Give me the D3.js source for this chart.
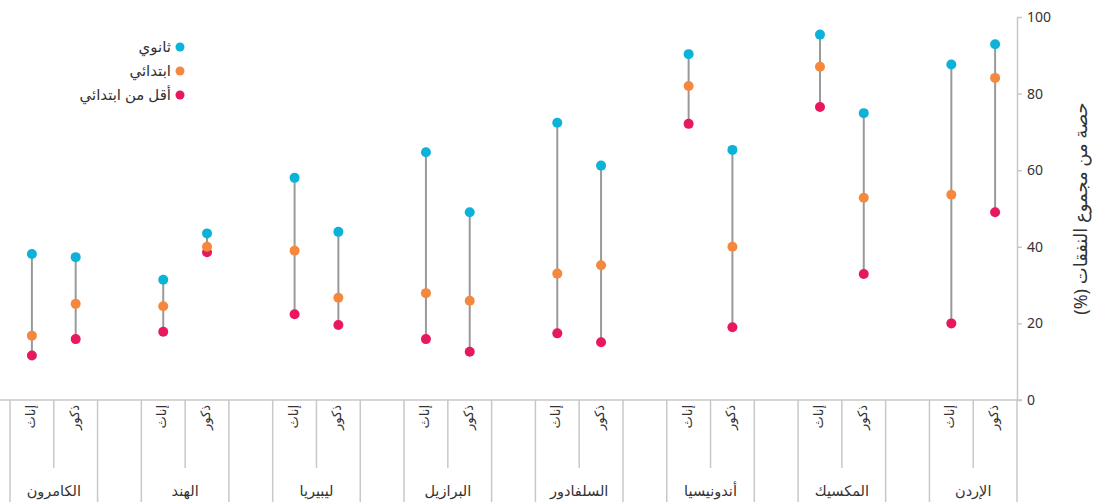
<!DOCTYPE html>
<html lang="ar">
<head>
<meta charset="utf-8">
<script src="https://cdn.jsdelivr.net/npm/d3@7"></script>
<style>
  html, body { margin: 0; padding: 0; background: #fff; }
  svg { display: block; font-family: "Noto Sans", "DejaVu Sans", sans-serif; }
</style>
</head>
<body>
<svg id="chart" width="1097" height="502"></svg>
<script>
// Countries, left to right
const countries = ["الكامرون", "الهند", "ليبيريا", "البرازيل", "السلفادور", "أندونيسيا", "المكسيك", "الإردن"];
const genders = ["إناث", "ذكور"];

// Share of total expenditure (%) per country, [إناث, ذكور]
const secondary = [[38.1, 37.3], [31.4, 43.5], [58.0, 43.9], [64.7, 49.0], [72.4, 61.2], [90.3, 65.3], [95.4, 74.9], [87.6, 92.9]];
const primary = [[16.8, 25.1], [24.5, 40.0], [39.0, 26.7], [27.9, 25.9], [33.0, 35.2], [82.0, 40.0], [87.0, 52.8], [53.6, 84.1]];
const belowPrimary = [[11.6, 15.9], [17.8, 38.6], [22.4, 19.6], [15.9, 12.6], [17.4, 15.1], [72.1, 19.0], [76.5, 32.9], [20.0, 49.0]];

const seriesNames = ["ثانوي", "ابتدائي", "أقل من ابتدائي"];
const seriesColors = ["#0db2d8", "#f5883c", "#e8185c"];
const yTicks = [0, 20, 40, 60, 80, 100];
const yTitle = "حصة من مجموع النفقات (%)";

const svg = d3.select("#chart");
const plotLeft = 10, plotRight = 1017, plotTop = 17, plotBase = 400, tableBottom = 502;
const gridColor = "#c8c8c8";
const textColor = "#333";

const y = d3.scaleLinear().domain([0, 100]).range([plotBase, plotTop]);
const xCountry = d3.scaleBand().domain(countries).range([plotLeft, plotRight]).paddingInner(1 / 3).paddingOuter(0);
const xGender = d3.scaleBand().domain(genders).range([0, xCountry.bandwidth()]);

// Flatten into one record per country/gender column
const rows = [];
countries.forEach((c, i) => {
  genders.forEach((g, j) => {
    rows.push({
      country: c, gender: g,
      values: [secondary[i][j], primary[i][j], belowPrimary[i][j]]
    });
  });
});
const cx = d => xCountry(d.country) + xGender(d.gender) + xGender.bandwidth() / 2;

// Baseline across the plot
svg.append("line")
  .attr("x1", 0).attr("x2", plotRight + 5)
  .attr("y1", plotBase).attr("y2", plotBase)
  .attr("stroke", gridColor).attr("stroke-width", 1.5);

// Category table borders below the plot
const table = svg.append("g");
countries.forEach(c => {
  const x0 = xCountry(c), x1 = x0 + xCountry.bandwidth();
  [x0, x1].forEach(x => table.append("line")
    .attr("x1", x).attr("x2", x).attr("y1", plotBase).attr("y2", tableBottom)
    .attr("stroke", gridColor).attr("stroke-width", 1.5));
  table.append("line")
    .attr("x1", x0 + xGender.bandwidth()).attr("x2", x0 + xGender.bandwidth())
    .attr("y1", plotBase).attr("y2", 468)
    .attr("stroke", gridColor).attr("stroke-width", 1.5);
  table.append("text")
    .attr("x", x0 + xCountry.bandwidth() / 2).attr("y", 496)
    .attr("text-anchor", "middle")
    .attr("font-size", 14.5).attr("fill", textColor)
    .text(c);
});

// Gender labels, rotated
table.selectAll("text.gender").data(rows).join("text")
  .attr("class", "gender")
  .attr("transform", d => `translate(${cx(d) - 2},${plotBase + 5}) rotate(-90)`)
  .attr("text-anchor", "end")
  .attr("dominant-baseline", "central")
  .attr("font-size", 13).attr("fill", textColor)
  .text(d => d.gender);

// Right-hand value axis
const axis = svg.append("g")
  .attr("transform", `translate(${plotRight},0)`)
  .call(d3.axisRight(y).tickValues(yTicks).tickSize(5).tickSizeOuter(0).tickPadding(5));
axis.select(".domain").attr("stroke", gridColor).attr("stroke-width", 1.5);
axis.selectAll(".tick line").attr("stroke", gridColor).attr("stroke-width", 1.5);
axis.selectAll(".tick text")
  .attr("font-size", 14).attr("fill", textColor)
  .attr("font-family", "\"Noto Sans\", \"DejaVu Sans\", sans-serif");

svg.append("text")
  .attr("transform", `translate(1080,${(plotTop + plotBase) / 2}) rotate(-90)`)
  .attr("direction", "rtl")
  .attr("text-anchor", "middle")
  .attr("dominant-baseline", "central")
  .attr("font-size", 18).attr("fill", textColor)
  .text(yTitle);

// Range lines
svg.append("g").selectAll("line").data(rows).join("line")
  .attr("x1", cx).attr("x2", cx)
  .attr("y1", d => y(d3.max(d.values)))
  .attr("y2", d => y(d3.min(d.values)))
  .attr("stroke", "#999").attr("stroke-width", 2);

// Dots, drawn bottom series first so higher series sit on top
[2, 1, 0].forEach(k => {
  svg.append("g").selectAll("circle").data(rows).join("circle")
    .attr("cx", cx)
    .attr("cy", d => y(d.values[k]))
    .attr("r", 5)
    .attr("fill", seriesColors[k]);
});

// Legend
const legend = svg.append("g").attr("transform", "translate(180,47)");
seriesNames.forEach((name, i) => {
  const item = legend.append("g").attr("transform", `translate(0,${i * 24})`);
  item.append("circle").attr("r", 4.5).attr("fill", seriesColors[i]);
  item.append("text")
    .attr("x", -9).attr("dy", "0.35em")
    .attr("text-anchor", "end")
    .attr("font-size", 15).attr("fill", textColor)
    .text(name);
});
</script>
</body>
</html>
